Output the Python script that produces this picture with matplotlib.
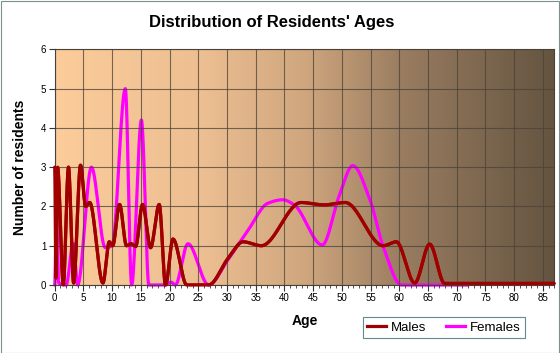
import numpy as np
import matplotlib
matplotlib.use("Agg")
import matplotlib.pyplot as plt
from matplotlib.lines import Line2D
from matplotlib.patches import Rectangle

# ---- data ----
male_ages = [0, 0.2, 0.5, 1.5, 2.4, 3.3, 4.5, 5.4, 6.1, 8.4, 9.5, 10.1, 11.3, 12.5,
             13.3, 14.1, 15.3, 16.7, 18.2, 19.3, 20.6, 23.0, 26.8, 30.2, 32.8, 36.0,
             42.9, 46.9, 50.6, 57.2, 59.5, 62.7, 65.3, 67.9, 87]
male_vals = [3.0, 0.15, 3.0, 0.0, 3.0, 0.05, 3.05, 2.0, 2.1, 0.05, 1.1, 1.0, 2.05, 1.0,
             1.05, 0.98, 2.05, 0.95, 2.05, 0.0, 1.17, 0.0, 0.0, 0.68, 1.1, 1.0,
             2.1, 2.04, 2.1, 1.0, 1.1, 0.05, 1.04, 0.04, 0.04]

female_ages = [0, 0.3, 0.7, 2.0, 3.2, 4.0, 6.4, 8.8, 10.0, 12.3, 13.4, 15.1, 16.4,
               19.3, 20.3, 21.0, 23.2, 26.8, 30.2, 33.7, 37.1, 39.7, 41.7, 46.6,
               49.5, 51.9, 54.9, 57.2, 60.4, 72.0]
female_vals = [0.0, 1.75, 0.05, 0.0, 1.06, 0.0, 3.0, 0.95, 1.0, 5.0, 0.0, 4.2, 0.0,
               0.0, 0.07, 0.0, 1.05, 0.0, 0.65, 1.4, 2.08, 2.17, 2.04, 1.02,
               2.25, 3.04, 2.17, 0.98, 0.0, 0.0]

x_ticks = list(range(0, 90, 5))
y_ticks = list(range(0, 7))
title = "Distribution of Residents' Ages"
xlabel = "Age"
ylabel = "Number of residents"
series_names = ["Males", "Females"]


def pchip(x, y, xs):
    x = np.asarray(x, float)
    y = np.asarray(y, float)
    h = np.diff(x)
    delta = np.diff(y) / h
    n = len(x)
    d = np.zeros(n)
    for k in range(1, n - 1):
        if delta[k - 1] * delta[k] > 0:
            w1 = 2 * h[k] + h[k - 1]
            w2 = h[k] + 2 * h[k - 1]
            d[k] = (w1 + w2) / (w1 / delta[k - 1] + w2 / delta[k])
    idx = np.clip(np.searchsorted(x, xs) - 1, 0, n - 2)
    t = (xs - x[idx]) / h[idx]
    h00 = 2 * t**3 - 3 * t**2 + 1
    h10 = t**3 - 2 * t**2 + t
    h01 = -2 * t**3 + 3 * t**2
    h11 = t**3 - t**2
    return h00 * y[idx] + h10 * h[idx] * d[idx] + h01 * y[idx + 1] + h11 * h[idx] * d[idx + 1]


W, H = 560, 353
fig = plt.figure(figsize=(W / 100, H / 100), dpi=100)
fig.patch.set_facecolor("white")
ax = fig.add_axes([54.7 / W, (H - 285) / H, (554.3 - 54.7) / W, (285 - 49.3) / H])

xmax = 87
ax.set_xlim(0, xmax)
ax.set_ylim(0, 6)

# background gradient
stops = np.array([0.0, 0.3, 0.5, 0.7, 1.0])
cols = np.array([[252, 204, 154], [236, 190, 145], [207, 166, 126],
                 [152, 124, 96], [100, 84, 64]]) / 255.0
gx = np.linspace(0, 1, 512)
grad = np.stack([np.interp(gx, stops, cols[:, c]) for c in range(3)], axis=-1)[None, :, :]
ax.imshow(grad, extent=[0, xmax, 0, 6], aspect="auto", zorder=0, interpolation="bilinear")

ax.set_xticks(x_ticks)
ax.set_yticks(y_ticks)
ax.set_xticks(np.arange(0, xmax + 0.01, 1), minor=True)
ax.grid(True, which="major", color="#4a4238", linewidth=0.8, alpha=0.75, zorder=1)
ax.set_axisbelow(False)

xs_m = np.linspace(0, male_ages[-1], 2000)
xs_f = np.linspace(0, female_ages[-1], 2000)
ax.plot(xs_m, pchip(male_ages, male_vals, xs_m), color="#a00000", lw=2.3,
        solid_capstyle="round", zorder=3, clip_on=False)
ax.plot(xs_f, pchip(female_ages, female_vals, xs_f), color="#ff00ff", lw=2.3,
        solid_capstyle="round", zorder=2, clip_on=False)
ax.plot(xs_m, pchip(male_ages, male_vals, xs_m), color="#a00000", lw=2.3,
        solid_capstyle="round", zorder=3)

for s in ax.spines.values():
    s.set_color("#4a4238")
    s.set_linewidth(0.8)

ax.tick_params(axis="both", which="major", direction="out", length=4, width=0.8,
               color="#333333", labelsize=7, labelcolor="black", pad=2)
ax.tick_params(axis="x", which="minor", direction="out", length=2.5, width=0.6, color="#333333")
for lab in ax.get_xticklabels() + ax.get_yticklabels():
    lab.set_family("Liberation Sans")

ax.set_xlabel(xlabel, fontsize=10, fontweight="bold", family="Liberation Sans", labelpad=8)
ax.set_ylabel(ylabel, fontsize=10, fontweight="bold", family="Liberation Sans", labelpad=10)

fig.text(272 / W, 1 - 22 / H, title, ha="center", va="center", fontsize=12,
         fontweight="bold", family="Liberation Sans")

handles = [Line2D([0], [0], color="#a00000", lw=2.3),
           Line2D([0], [0], color="#ff00ff", lw=2.3)]
leg = fig.legend(handles, series_names, loc="center", bbox_to_anchor=(444 / W, 1 - 327.5 / H),
                 ncol=2, frameon=True, fancybox=False, fontsize=9.5, handlelength=1.4,
                 handletextpad=0.4, columnspacing=1.5, borderpad=0.35,
                 prop={"family": "Liberation Sans", "size": 9.5})
leg.get_frame().set_edgecolor("#3c6e6e")
leg.get_frame().set_linewidth(0.8)

fig.add_artist(Rectangle((0.001, 0.001), 0.997, 0.997, transform=fig.transFigure,
                         fill=False, edgecolor="#7f8f8f", linewidth=0.8))

fig.savefig("out.png", dpi=100)
